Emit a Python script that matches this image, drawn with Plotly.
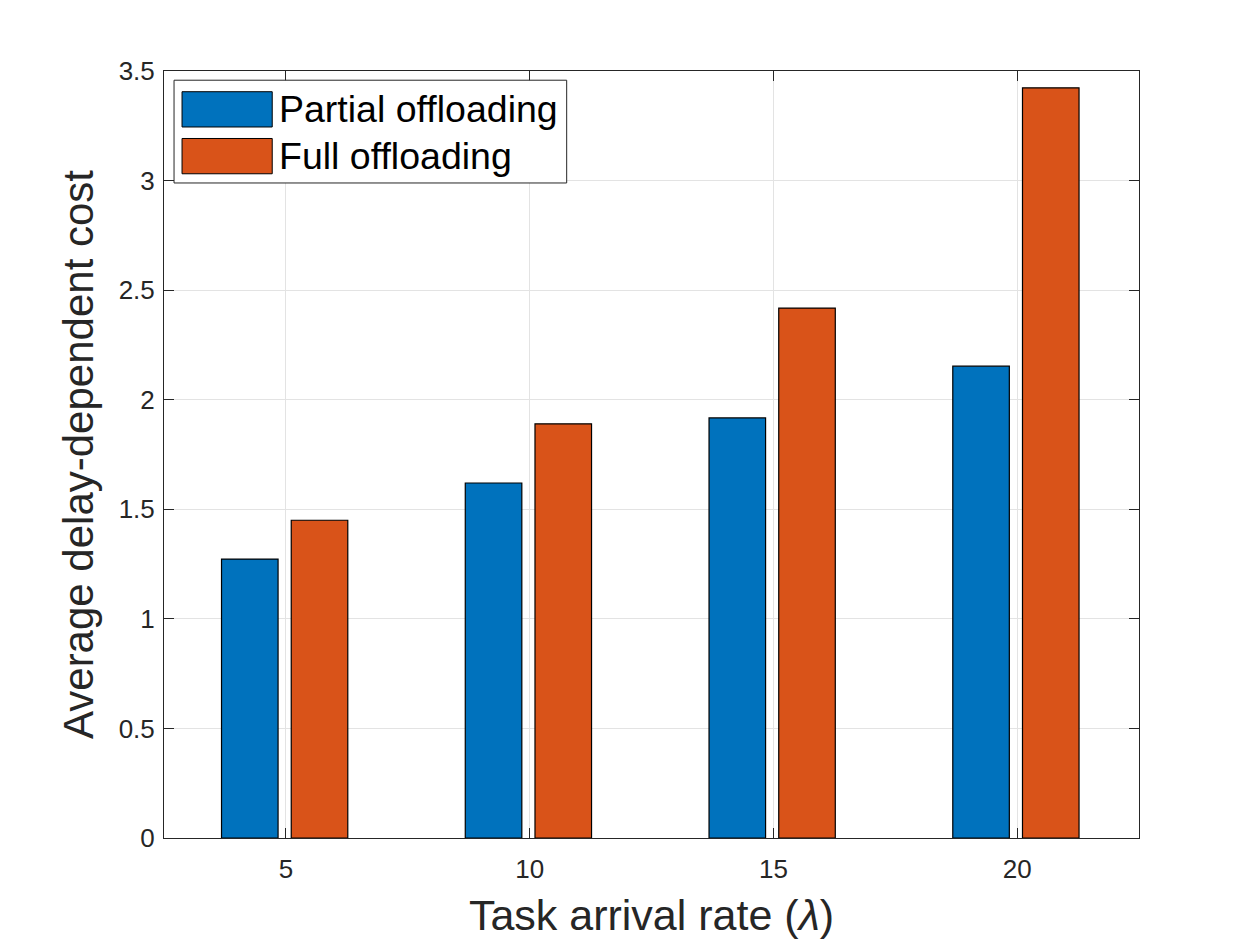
import plotly.graph_objects as go

# data
arrival_rates = [5, 10, 15, 20]
partial_cost = [1.273, 1.62, 1.917, 2.153]
full_cost = [1.450, 1.89, 2.418, 3.423]
series_names = ['Partial offloading', 'Full offloading']
y_ticks = [0, 0.5, 1, 1.5, 2, 2.5, 3, 3.5]

BLUE = '#0072BD'
ORANGE = '#D95319'
AXIS = '#262626'
FONT = 'Liberation Sans, Arial, sans-serif'

fig = go.Figure()

fig.add_trace(go.Bar(
    x=arrival_rates, y=partial_cost, name=series_names[0],
    width=1.16, offset=-1.32,
    marker=dict(color=BLUE, line=dict(color='black', width=1.2)),
    showlegend=False,
))
fig.add_trace(go.Bar(
    x=arrival_rates, y=full_cost, name=series_names[1],
    width=1.16, offset=0.11,
    marker=dict(color=ORANGE, line=dict(color='black', width=1.2)),
    showlegend=False,
))

# MATLAB-style legend box drawn by hand (plotly swatches are too small)
fig.add_shape(type='rect', xref='paper', yref='paper',
              x0=0.0103, x1=0.413, y0=0.854, y1=0.988,
              line=dict(color=AXIS, width=1), fillcolor='white', layer='above')
for i, (name, col) in enumerate(zip(series_names, [BLUE, ORANGE])):
    ytop = 0.973 - i * 0.061
    fig.add_shape(type='rect', xref='paper', yref='paper',
                  x0=0.0185, x1=0.111, y0=ytop - 0.046, y1=ytop,
                  line=dict(color='black', width=1), fillcolor=col, layer='above')
    fig.add_annotation(xref='paper', yref='paper', x=0.116, y=ytop - 0.023,
                       text=name, showarrow=False, xanchor='left', yanchor='middle',
                       font=dict(family=FONT, size=37.5, color='black'))

fig.update_xaxes(
    range=[2.5, 22.5], tickvals=arrival_rates, ticktext=[str(v) for v in arrival_rates],
    showgrid=True, gridcolor='#e3e3e3', gridwidth=1,
    showline=True, linecolor=AXIS, linewidth=1, mirror='ticks',
    ticks='inside', ticklen=10, tickcolor=AXIS, ticklabelstandoff=8,
    tickfont=dict(family=FONT, size=26, color=AXIS),
    title=dict(text='Task arrival rate (<i>λ</i>)', font=dict(family=FONT, size=43, color=AXIS), standoff=16),
    zeroline=False,
)
fig.update_yaxes(
    range=[0, 3.5], tickvals=y_ticks, ticktext=['0', '0.5', '1', '1.5', '2', '2.5', '3', '3.5'],
    showgrid=True, gridcolor='#e3e3e3', gridwidth=1,
    showline=True, linecolor=AXIS, linewidth=1, mirror='ticks',
    ticks='inside', ticklen=10, tickcolor=AXIS, ticklabelstandoff=3,
    tickfont=dict(family=FONT, size=26, color=AXIS),
    title=dict(text='Average delay-dependent cost', font=dict(family=FONT, size=42, color=AXIS), standoff=11),
    zeroline=False,
)

# margins shifted by 8px to offset the page's body margin
fig.update_layout(
    width=1260, height=945,
    margin=dict(l=156, r=129, t=63, b=115),
    plot_bgcolor='white', paper_bgcolor='white',
    barmode='overlay',
)

fig.write_html('out.html')
